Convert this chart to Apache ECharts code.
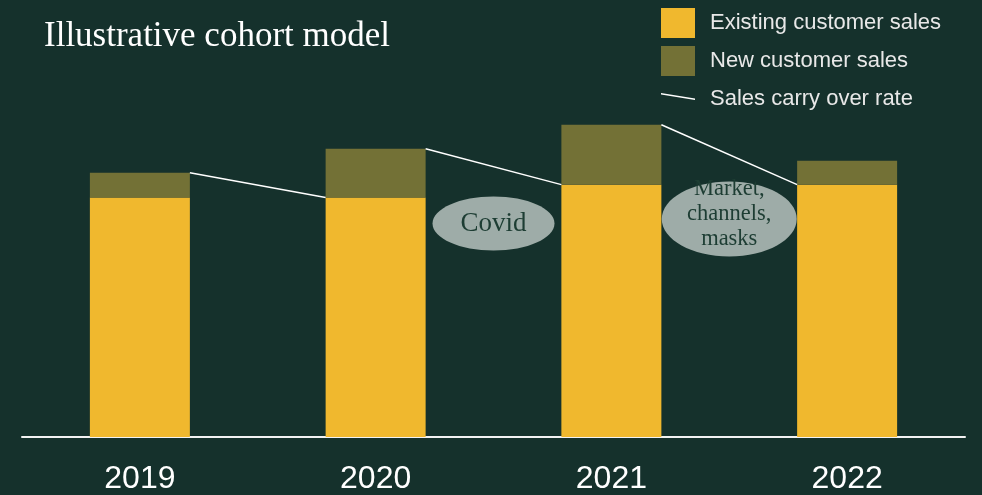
<!DOCTYPE html>
<html>
<head>
<meta charset="utf-8">
<script src="https://cdn.jsdelivr.net/npm/echarts@6/dist/echarts.min.js"></script>
<style>
html,body{margin:0;padding:0;background:#15312c;}
#chart{width:982px;height:495px;}
</style>
</head>
<body>
<div id="chart"></div>
<script>
const years = ['2019', '2020', '2021', '2022'];
const existingSales = [240, 240, 253, 253];
const newSales = [25, 49, 60, 24];
const annotationLabels = ['Covid', 'Market,\nchannels,\nmasks'];

const totals = existingSales.map((v, i) => v + newSales[i]);
const carryData = [];
for (let i = 0; i < years.length - 1; i++) {
  carryData.push([i, totals[i], i + 1, existingSales[i + 1]]);
}

const BAR_W = 100;
const annoCfg = [
  { from: 1, y: 214, rx: 61, ry: 27, fontSize: 27, lh: 30, dy: 0 },
  { from: 2, y: 218.5, rx: 67.5, ry: 37.5, fontSize: 22.5, lh: 25, dy: -5 }
];
const annoData = annotationLabels.map((t, k) => [annoCfg[k].from, annoCfg[k].y]);

const chart = echarts.init(document.getElementById('chart'));
chart.setOption({
  backgroundColor: '#15312c',
  animation: false,
  title: {
    text: 'Illustrative cohort model',
    left: 39, top: 14,
    textStyle: { fontFamily: 'Liberation Serif', fontSize: 35, fontWeight: 'normal', color: '#ffffff' }
  },
  legend: {
    orient: 'vertical',
    left: 661, top: 8, padding: 0,
    itemWidth: 34, itemHeight: 30, itemGap: 8,
    textStyle: { fontFamily: 'Liberation Sans', fontSize: 22, color: '#e8e8e8', padding: [0, 0, 0, 10] },
    data: [
      { name: 'Existing customer sales', icon: 'rect' },
      { name: 'New customer sales', icon: 'rect' },
      { name: 'Sales carry over rate',
        icon: 'path://M0,0L0.01,0L0,0.01Z M0,9L34,14.5L34,16L0,10.5Z M34,30L33.99,30L34,29.99Z',
        itemStyle: { color: '#ffffff' } }
    ]
  },
  grid: { left: 22, right: 17, top: 38, bottom: 57 },
  xAxis: {
    type: 'category',
    data: years,
    axisLine: { lineStyle: { color: '#f2f2f2', width: 2 } },
    axisTick: { show: false },
    axisLabel: { fontFamily: 'Liberation Sans', fontSize: 32, color: '#ffffff', margin: 26 }
  },
  yAxis: { type: 'value', min: 0, max: 400, show: false, splitLine: { show: false } },
  series: [
    {
      name: 'Existing customer sales', type: 'bar', stack: 's', barWidth: BAR_W,
      itemStyle: { color: '#f0b82e' }, data: existingSales
    },
    {
      name: 'New customer sales', type: 'bar', stack: 's', barWidth: BAR_W,
      itemStyle: { color: '#737136' }, data: newSales
    },
    {
      name: 'Sales carry over rate', type: 'custom',
      itemStyle: { color: '#ffffff' },
      encode: { x: [0, 2], y: [1, 3] },
      data: carryData,
      renderItem: function (params, api) {
        const p1 = api.coord([api.value(0), api.value(1)]);
        const p2 = api.coord([api.value(2), api.value(3)]);
        return {
          type: 'line',
          shape: { x1: p1[0] + BAR_W / 2, y1: p1[1], x2: p2[0] - BAR_W / 2, y2: p2[1] },
          style: { stroke: '#ffffff', lineWidth: 1.5 }
        };
      },
      z: 5
    },
    {
      name: 'annotations', type: 'custom',
      encode: { x: 0, y: 1 },
      data: annoData,
      renderItem: function (params, api) {
        const k = params.dataIndex;
        const c = annoCfg[k];
        const a = api.coord([c.from, api.value(1)]);
        const b = api.coord([c.from + 1, api.value(1)]);
        const cx = (a[0] + b[0]) / 2;
        return {
          type: 'ellipse',
          shape: { cx: cx, cy: a[1], rx: c.rx, ry: c.ry },
          style: { fill: '#9eaca8' },
          textContent: {
            style: {
              text: annotationLabels[k],
              fill: '#1d3d33',
              font: c.fontSize + 'px "Liberation Serif"',
              lineHeight: c.lh,
              align: 'center', verticalAlign: 'middle'
            }
          },
          textConfig: { position: 'inside', offset: [0, c.dy] }
        };
      },
      z: 6
    }
  ]
});
</script>
</body>
</html>
